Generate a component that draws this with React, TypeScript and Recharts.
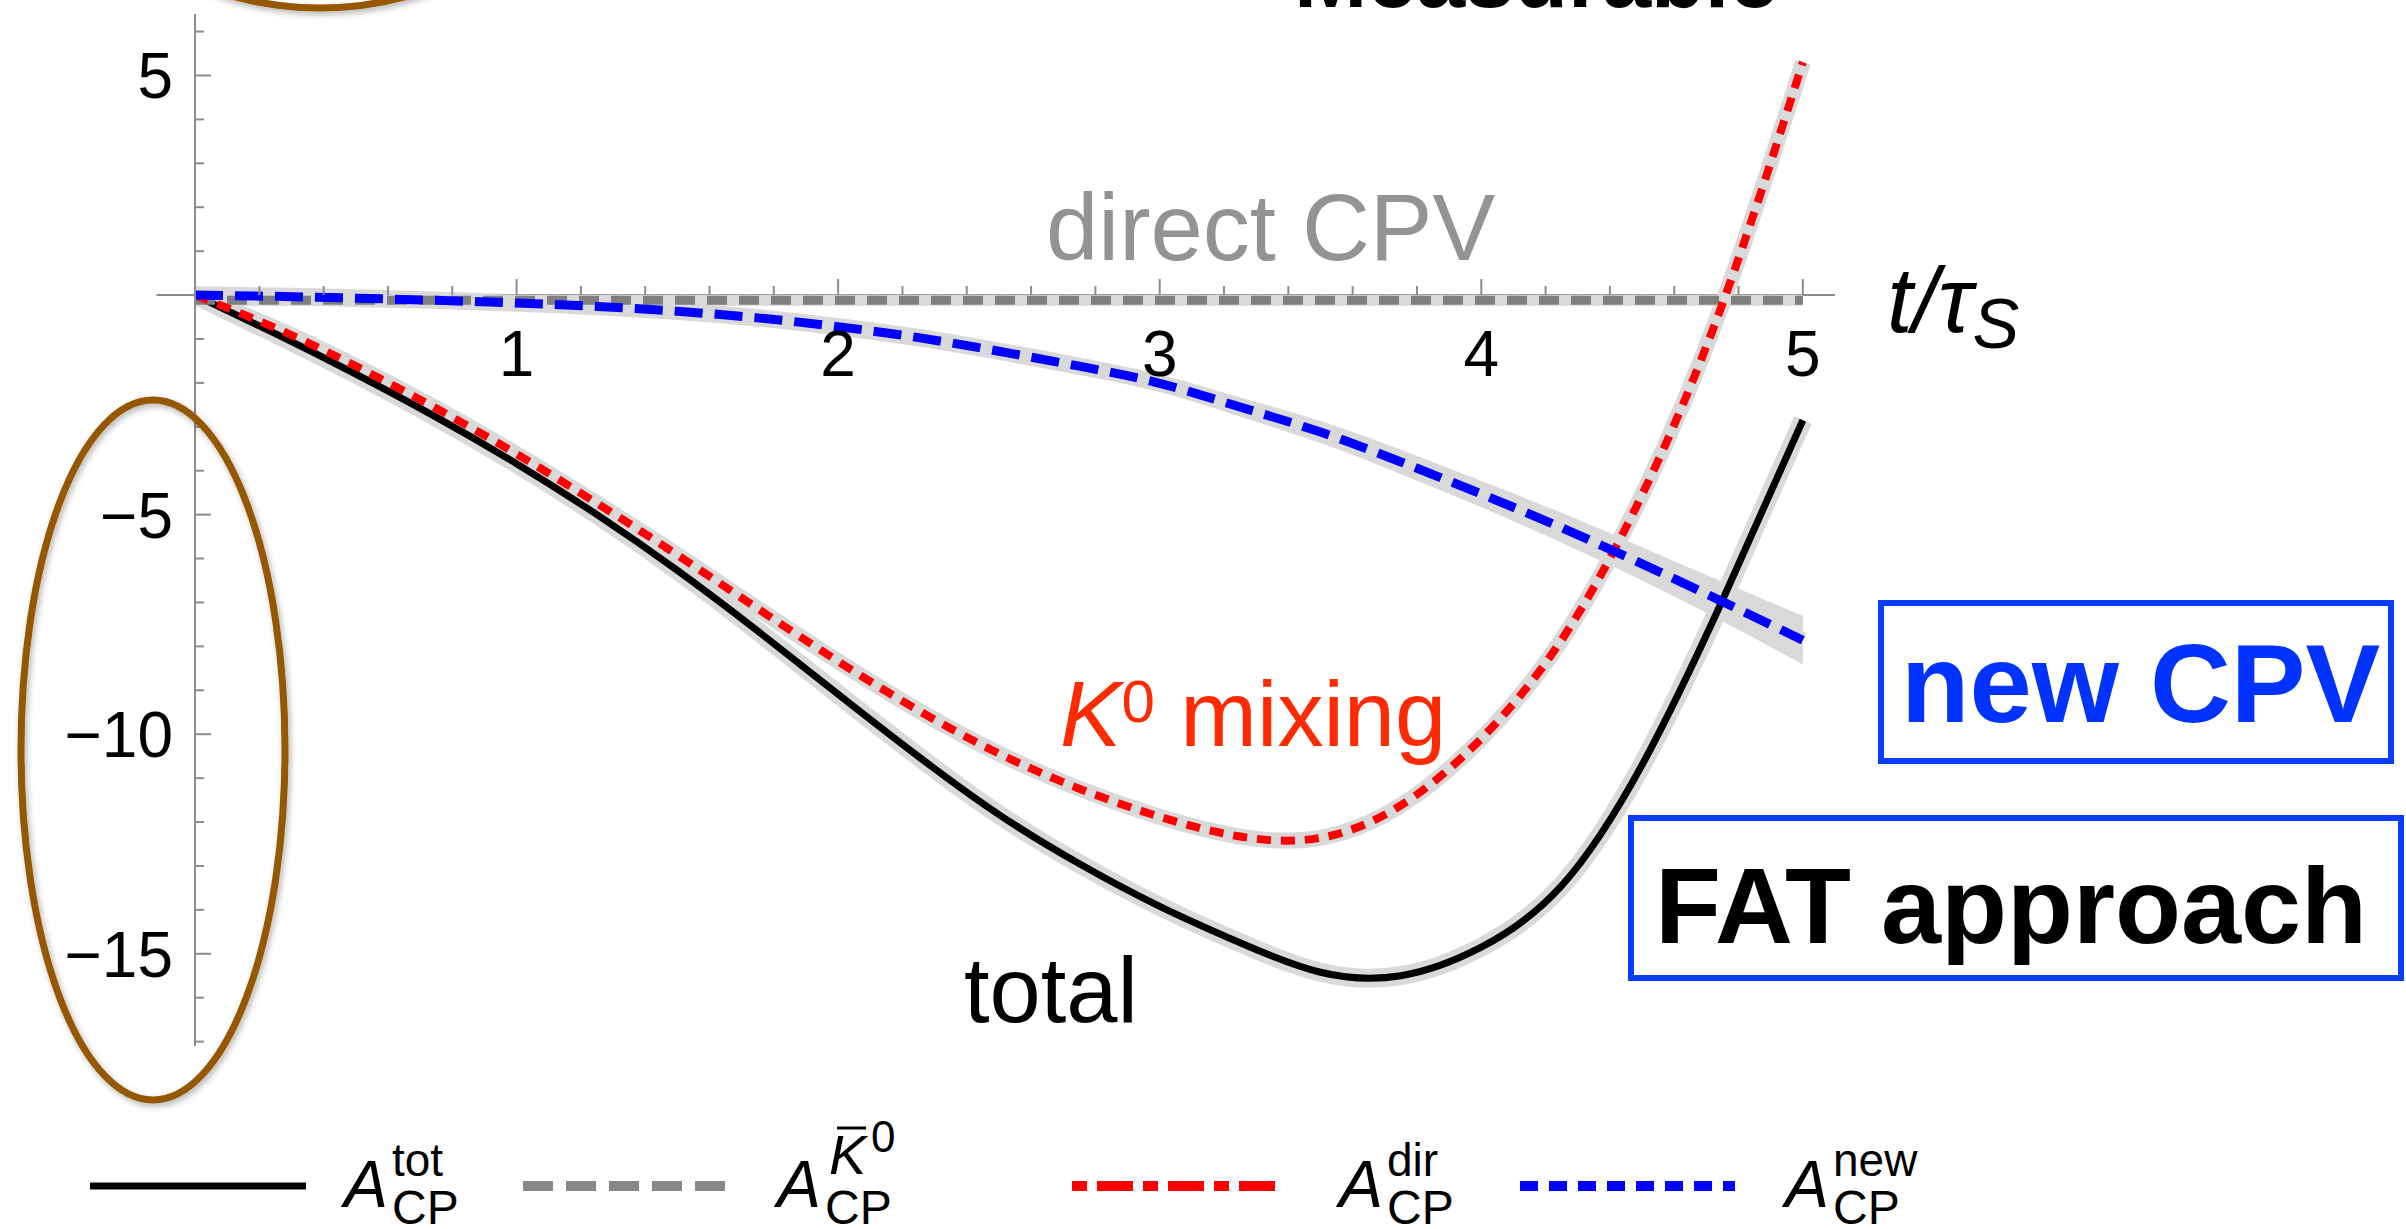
import React from 'react';
import { ComposedChart, Line, Area, XAxis, YAxis, ReferenceLine } from 'recharts';

// ---------- data ----------
const tValues = [0, 0.25, 0.5, 0.75, 1, 1.25, 1.5, 1.75, 2, 2.25, 2.5, 2.75, 3, 3.25, 3.5, 3.75, 4, 4.25, 4.5, 4.75, 5];
const totalValues = [0, -0.88, -1.8, -2.78, -3.84, -5.0, -6.27, -7.65, -9.09, -10.51, -11.83, -12.95, -13.92, -14.75, -15.42, -15.5, -14.85, -13.45, -10.7, -6.95, -2.85];
const directValues = [-0.12, -0.12, -0.12, -0.12, -0.12, -0.12, -0.12, -0.12, -0.12, -0.12, -0.12, -0.12, -0.12, -0.12, -0.12, -0.12, -0.12, -0.12, -0.12, -0.12, -0.12];
const mixingValues = [0, -0.75, -1.62, -2.58, -3.62, -4.74, -5.92, -7.14, -8.34, -9.46, -10.44, -11.24, -11.88, -12.33, -12.36, -11.62, -10.1, -7.85, -4.55, -0.2, 5.3];
const newValues = [0, -0.03, -0.07, -0.12, -0.18, -0.26, -0.37, -0.52, -0.72, -0.97, -1.28, -1.62, -2.01, -2.55, -3.12, -3.8, -4.53, -5.3, -6.12, -6.98, -7.86];
const newBandHigh = [0.2, 0.17, 0.13, 0.08, 0.02, -0.06, -0.17, -0.32, -0.52, -0.77, -1.08, -1.42, -1.81, -2.33, -2.87, -3.52, -4.23, -4.96, -5.74, -6.53, -7.31];
const newBandLow = [-0.2, -0.23, -0.27, -0.32, -0.38, -0.46, -0.57, -0.72, -0.92, -1.17, -1.48, -1.82, -2.21, -2.77, -3.37, -4.08, -4.83, -5.64, -6.5, -7.43, -8.41];

const xMajorTicks = [1, 2, 3, 4, 5];
const xTicks = [0.2, 0.4, 0.6, 0.8, 1, 1.2, 1.4, 1.6, 1.8, 2, 2.2, 2.4, 2.6, 2.8, 3, 3.2, 3.4, 3.6, 3.8, 4, 4.2, 4.4, 4.6, 4.8, 5];
const yMajorTicks = [5, -5, -10, -15];
const yTicks = [6, 5, 4, 3, 2, 1, -1, -2, -3, -4, -5, -6, -7, -8, -9, -10, -11, -12, -13, -14, -15, -16, -17];

const legendSup = ['tot', 'K0bar', 'dir', 'new'];

const data = tValues.map((t, i) => ({
  t,
  total: totalValues[i],
  direct: directValues[i],
  mixing: mixingValues[i],
  fresh: newValues[i],
  freshBand: [newBandLow[i], newBandHigh[i]],
}));

// ---------- layout ----------
const W = 2406;
const H = 1229;
const MARGIN = { top: 14, right: 571, bottom: 153, left: 75 };
const X_AXIS_H = 30;
const Y_AXIS_W = 120;
const X_DOMAIN: [number, number] = [0, 5.1];
const Y_DOMAIN: [number, number] = [-17.1, 6.4];
const PLOT_H = H - MARGIN.top - MARGIN.bottom - X_AXIS_H;
const ZERO_FROM_BOTTOM = (PLOT_H * (0 - Y_DOMAIN[0])) / (Y_DOMAIN[1] - Y_DOMAIN[0]);

const FONT = '"Liberation Sans", Arial, Helvetica, sans-serif';
const AXIS = '#8c8c8c';
const HALO = '#d9d9d9';

const fmt = (v: number) => (v < 0 ? '\u2212' + Math.abs(v) : String(v));

const XTick = (props: any) => {
  const { x, y, payload } = props;
  const v = payload.value;
  const zeroY = y - ZERO_FROM_BOTTOM;
  const major = xMajorTicks.includes(v);
  return (
    <g>
      <line x1={x} x2={x} y1={zeroY} y2={zeroY - (major ? 16 : 9)} stroke={AXIS} strokeWidth={2} />
      {major && (
        <text x={x} y={zeroY + 81} textAnchor="middle" fontSize={64} fontFamily={FONT} fill="#000">
          {v}
        </text>
      )}
    </g>
  );
};

const YTick = (props: any) => {
  const { x, y, payload } = props;
  const v = payload.value;
  const major = yMajorTicks.includes(v);
  return (
    <g>
      <line x1={x} x2={x + (major ? 16 : 9)} y1={y} y2={y} stroke={AXIS} strokeWidth={2} />
      {major && (
        <text x={x - 22} y={y} dy={23} textAnchor="end" fontSize={64} fontFamily={FONT} fill="#000">
          {fmt(v)}
        </text>
      )}
    </g>
  );
};

const legendItems = [
  { x1: 90, x2: 306, ax: 344, color: '#000000', dash: undefined as string | undefined, width: 7 },
  { x1: 523, x2: 725, ax: 777, color: '#888888', dash: '30 13', width: 10 },
  { x1: 1072, x2: 1282, ax: 1339, color: '#ff0000', dash: '15 10 36 10', width: 10 },
  { x1: 1520, x2: 1735, ax: 1785, color: '#0000ff', dash: '18 11', width: 10 },
];

const Overlay = () => (
  <svg width={W} height={H} style={{ position: 'absolute', left: 0, top: 0, pointerEvents: 'none' }}>
    <defs>
      <filter id="shadow" x="-20%" y="-20%" width="140%" height="140%">
        <feDropShadow dx="2" dy="3" stdDeviation="3" floodColor="#000" floodOpacity="0.3" />
      </filter>
    </defs>
    {/* brown ellipses */}
    <ellipse cx={320} cy={-150} rx={230} ry={158} fill="none" stroke="#955800" strokeWidth={7} filter="url(#shadow)" />
    <ellipse cx={153} cy={750} rx={132} ry={350} fill="none" stroke="#955800" strokeWidth={7} filter="url(#shadow)" />

    {/* annotations */}
    <text x={1294} y={7} fontSize={88} fontWeight="bold" fontFamily={FONT} fill="#000">Measurable</text>
    <text x={1046} y={260} fontSize={94} fontFamily={FONT} fill="#939393">direct CPV</text>
    <text x={1060} y={746} fontSize={92} fontFamily={FONT} fill="#ff2a00">
      <tspan fontStyle="italic">K</tspan>
      <tspan fontSize={60} dy={-24}>0</tspan>
      <tspan dy={24}> mixing</tspan>
    </text>
    <text x={964} y={1022} fontSize={92} fontFamily={FONT} fill="#000">total</text>

    {/* x-axis title */}
    <text x={1887} y={332} fontSize={92} fontFamily={FONT} fontStyle="italic" fill="#000">
      t/τ<tspan fontSize={70} dy={16}>S</tspan>
    </text>

    {/* boxes */}
    <rect x={1881} y={603} width={510} height={158} fill="#fff" stroke="#0a3cff" strokeWidth={6} />
    <text x={1901} y={722} fontSize={112} fontWeight="bold" fontFamily={FONT} fill="#0033ff">new CPV</text>
    <rect x={1631} y={818} width={770} height={160} fill="#fff" stroke="#0a3cff" strokeWidth={6} />
    <text x={1655} y={943} fontSize={108} fontWeight="bold" fontFamily={FONT} fill="#000">FAT approach</text>

    {/* legend */}
    {legendItems.map((it, i) => (
      <g key={i}>
        <line x1={it.x1} x2={it.x2} y1={1186} y2={1186} stroke={it.color} strokeWidth={it.width} strokeDasharray={it.dash} />
        <text x={it.ax} y={1207} fontSize={66} fontStyle="italic" fontFamily={FONT} fill="#000">A</text>
        <text x={it.ax + 48} y={1224} fontSize={48} fontFamily={FONT} fill="#000">CP</text>
        {legendSup[i] === 'K0bar' ? (
          <g>
            <text x={it.ax + 52} y={1174} fontSize={56} fontStyle="italic" fontFamily={FONT} fill="#000">K</text>
            <line x1={it.ax + 60} x2={it.ax + 89} y1={1128} y2={1128} stroke="#000" strokeWidth={3} />
            <text x={it.ax + 94} y={1152} fontSize={44} fontFamily={FONT} fill="#000">0</text>
          </g>
        ) : (
          <text x={it.ax + 48} y={1176} fontSize={46} fontFamily={FONT} fill="#000">{legendSup[i]}</text>
        )}
      </g>
    ))}
  </svg>
);

const noDot = { dot: false as const, activeDot: false as const, isAnimationActive: false };

export default function App() {
  return (
    <div style={{ position: 'absolute', left: 0, top: 0, width: W, height: H, background: '#fff' }}>
      <ComposedChart width={W} height={H} data={data} margin={MARGIN}>
        <XAxis
          dataKey="t"
          type="number"
          domain={X_DOMAIN}
          ticks={xTicks}
          interval={0}
          axisLine={false}
          tickLine={false}
          tickSize={0}
          tickMargin={0}
          height={X_AXIS_H}
          allowDataOverflow
          tick={(p: any) => <XTick {...p} />}
        />
        <YAxis
          type="number"
          domain={Y_DOMAIN}
          ticks={yTicks}
          interval={0}
          axisLine={{ stroke: AXIS, strokeWidth: 2 }}
          tickLine={false}
          tickSize={0}
          tickMargin={0}
          width={Y_AXIS_W}
          allowDataOverflow
          tick={(p: any) => <YTick {...p} />}
        />
        <ReferenceLine segment={[{ x: -0.12, y: 0 }, { x: 5.1, y: 0 }]} stroke={AXIS} strokeWidth={2} ifOverflow="visible" />

        {/* halos / bands */}
        <Area dataKey="freshBand" type="natural" fill={HALO} fillOpacity={1} stroke="none" isAnimationActive={false} activeDot={false} />
        <Line dataKey="fresh" type="natural" stroke={HALO} strokeWidth={16} {...noDot} />
        <Line dataKey="total" type="natural" stroke={HALO} strokeWidth={19} {...noDot} />
        <Line dataKey="direct" type="linear" stroke={HALO} strokeWidth={11} {...noDot} />
        <Line dataKey="mixing" type="natural" stroke={HALO} strokeWidth={16} {...noDot} />

        {/* curves */}
        <Line dataKey="total" type="natural" stroke="#000000" strokeWidth={7} {...noDot} />
        <Line dataKey="direct" type="linear" stroke="#7f7f7f" strokeWidth={9} strokeDasharray="20 12" {...noDot} />
        <Line dataKey="mixing" type="natural" stroke="#ff0000" strokeWidth={8} strokeDasharray="14 10" {...noDot} />
        <Line dataKey="fresh" type="natural" stroke="#0000ff" strokeWidth={9} strokeDasharray="28 12" {...noDot} />
      </ComposedChart>
      <Overlay />
    </div>
  );
}
